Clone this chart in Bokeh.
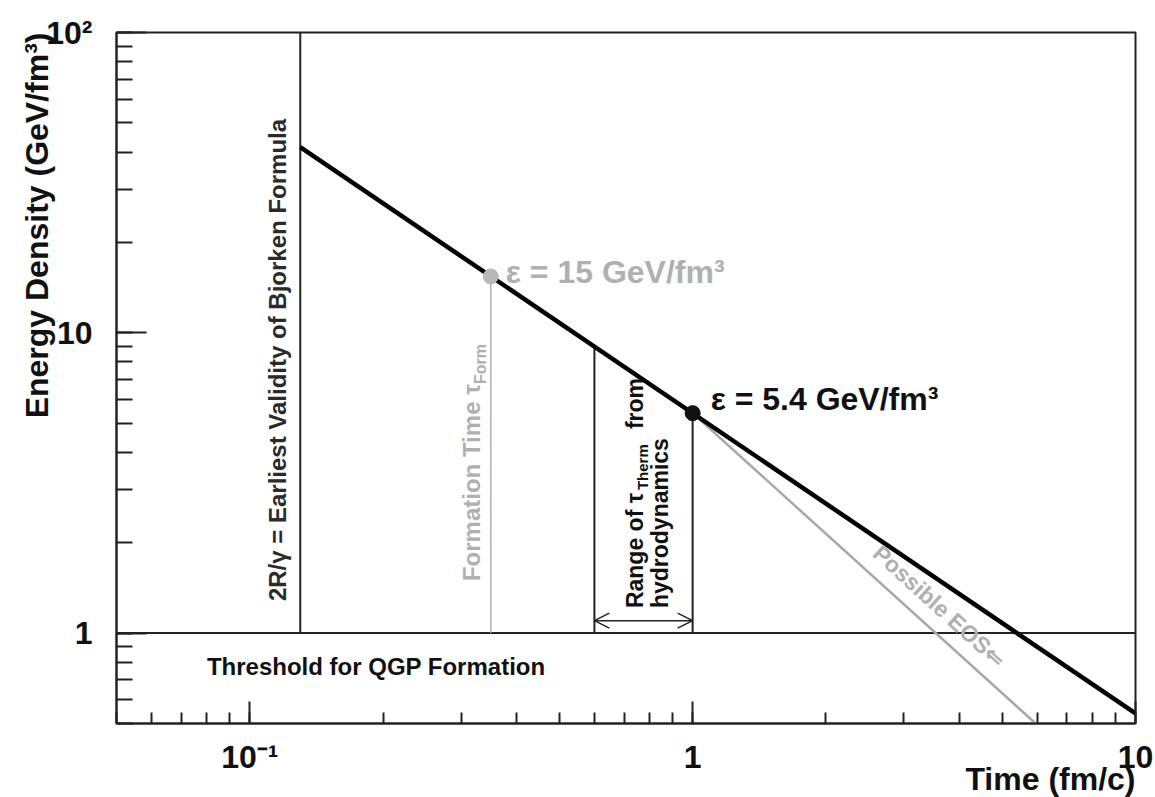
import math
from bokeh.plotting import figure
from bokeh.models import Label, Arrow, OpenHead, Title
from bokeh.embed import file_html
from bokeh.resources import INLINE

# ---------------- data ----------------
x_limits = [0.05, 10.0]
y_limits = [0.5, 100.0]
bjorken_tau = [0.13, 10.0]          # Bjorken estimate, eps ~ 1/tau
bjorken_eps = [41.5, 0.54]
eos_tau = [1.0, 5.95]               # possible EOS, eps ~ tau^-4/3
eos_eps = [5.4, 0.5]
threshold_eps = 1.0
tau_2r_gamma = 0.13
tau_form = 0.35
eps_form = 15.4
therm_tau = [0.6, 1.0]
therm_eps_top = [9.0, 5.4]
arrow_eps = 1.1
tau_therm = 1.0
eps_therm = 5.4
x_ticks = [0.1, 1, 10]
x_tick_labels = ["10⁻¹", "1", "10"]
y_ticks = [1, 10, 100]
y_tick_labels = ["1", "10", "10²"]
x_title = "Time (fm/c)"
y_title = "Energy Density (GeV/fm³)"

FONT = "Liberation Sans"
GRAY = "#b0b0b0"
DARK = "#222222"

p = figure(width=1155, height=797, x_axis_type="log", y_axis_type="log",
           x_range=(x_limits[0], x_limits[1]), y_range=(y_limits[0], y_limits[1]),
           output_backend="svg", toolbar_location=None,
           min_border_left=116, min_border_right=20, min_border_top=32, min_border_bottom=74)

p.xgrid.visible = False
p.ygrid.visible = False
p.outline_line_color = DARK
p.outline_line_width = 2
p.background_fill_color = "white"
p.border_fill_color = "white"

for ax in (p.xaxis[0], p.yaxis[0]):
    ax.axis_line_color = DARK
    ax.axis_line_width = 2
    ax.major_tick_line_color = DARK
    ax.major_tick_line_width = 2
    ax.minor_tick_line_color = DARK
    ax.minor_tick_line_width = 2
    ax.major_tick_out = 0
    ax.minor_tick_out = 0
    ax.major_label_text_font = FONT
    ax.major_label_text_font_size = "32px"
    ax.major_label_text_font_style = "bold"
    ax.major_label_text_color = "#111111"

p.xaxis.major_tick_in = 22
p.xaxis.minor_tick_in = 11
p.yaxis.major_tick_in = 30
p.yaxis.minor_tick_in = 16
p.xaxis.major_label_standoff = 15
p.yaxis.major_label_standoff = 24
p.xaxis.major_label_overrides = {t: s for t, s in zip(x_ticks, x_tick_labels)}
p.yaxis.major_label_overrides = {t: s for t, s in zip(y_ticks, y_tick_labels)}


def side_title(text, side, standoff):
    t = Title(text=text, align="right", text_font=FONT, text_font_size="32px",
              text_font_style="bold", text_color="#111111")
    try:
        t.standoff = standoff
    except Exception:
        t.standoff = 0
    p.add_layout(t, side)


side_title(y_title, "left", -22)
side_title(x_title, "below", -37)

# threshold line
p.line(x_limits, [threshold_eps, threshold_eps], line_color=DARK, line_width=2)
# vertical lines
p.segment(x0=[tau_2r_gamma] + therm_tau, y0=[threshold_eps] * 3,
          x1=[tau_2r_gamma] + therm_tau, y1=[y_limits[1]] + therm_eps_top,
          line_color=DARK, line_width=2)
p.segment(x0=[tau_form], y0=[threshold_eps], x1=[tau_form], y1=[eps_form],
          line_color=GRAY, line_width=1.5)
# EOS and Bjorken lines
p.line(eos_tau, eos_eps, line_color="#a8a8a8", line_width=2.5)
p.line(bjorken_tau, bjorken_eps, line_color="black", line_width=4.5)
# points
p.scatter([tau_form], [eps_form], size=15, color="#b8b8b8")
p.scatter([tau_therm], [eps_therm], size=15, color="#111111")

# arrow for thermalisation range
p.add_layout(Arrow(start=OpenHead(size=15, line_width=1.5, line_color=DARK),
                   end=OpenHead(size=15, line_width=1.5, line_color=DARK),
                   x_start=therm_tau[0], y_start=arrow_eps, x_end=therm_tau[1], y_end=arrow_eps,
                   line_width=1.5, line_color=DARK))


def lab(text, x, y, dx=0, dy=0, size=24, color="#111111", angle=0.0, align="left",
        baseline="alphabetic", style="bold"):
    p.add_layout(Label(x=x, y=y, x_offset=dx, y_offset=dy, text=text, angle=angle,
                       text_font=FONT, text_font_size=f"{size}px", text_font_style=style,
                       text_color=color, text_align=align, text_baseline=baseline))


R90 = math.pi / 2
# annotations
lab("2R/γ = Earliest Validity of Bjorken Formula", tau_2r_gamma, threshold_eps,
    dx=-23, dy=32, size=24, color="#2a2a2a", angle=R90)
lab("Formation Time τ", tau_form, threshold_eps, dx=-19, dy=52, size=24, color=GRAY, angle=R90)
lab("Form", tau_form, threshold_eps, dx=-10, dy=249, size=16, color=GRAY, angle=R90)
lab("Range of τ", therm_tau[0], threshold_eps, dx=41, dy=25, size=23, angle=R90)
lab("Therm", therm_tau[0], threshold_eps, dx=48, dy=143, size=15, angle=R90)
lab("from", therm_tau[0], threshold_eps, dx=41, dy=204, size=23, angle=R90)
lab("hydrodynamics", therm_tau[0], threshold_eps, dx=66, dy=25, size=23, angle=R90)
lab("Threshold for QGP Formation", 0.08, threshold_eps, dx=0, dy=-33, size=24)
lab("ε = 15 GeV/fm³", tau_form, eps_form, dx=15, dy=4, size=32, color=GRAY)
lab("ε = 5.4 GeV/fm³", tau_therm, eps_therm, dx=18, dy=14, size=32, color="#111111")
lab("Possible EOS⇐", 3.6, threshold_eps, dx=0, dy=27, size=23, color=GRAY,
    angle=-0.735, align="center", baseline="middle")

open("out.html", "w").write(file_html(p, INLINE))
